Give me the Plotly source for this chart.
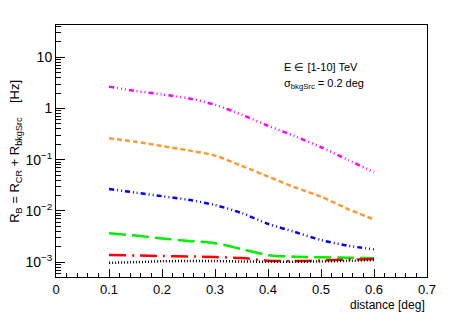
import plotly.graph_objects as go

distance = [0.10, 0.15, 0.20, 0.25, 0.30, 0.35, 0.40, 0.45, 0.50, 0.55, 0.60]

rate_magenta = [2.67, 2.20, 1.88, 1.58, 1.18, 0.76, 0.46, 0.29, 0.175, 0.10, 0.057]
rate_orange = [0.262, 0.225, 0.185, 0.152, 0.120, 0.076, 0.047, 0.029, 0.019, 0.011, 0.0068]
rate_blue = [0.0268, 0.0228, 0.0194, 0.0165, 0.0130, 0.0091, 0.0056, 0.0039, 0.0027, 0.0021, 0.00178]
rate_green = [0.00365, 0.0033, 0.0029, 0.0026, 0.00235, 0.0018, 0.00137, 0.00128, 0.00124, 0.00122, 0.00119]
rate_red = [0.00138, 0.00135, 0.00132, 0.00129, 0.00126, 0.0012, 0.00107, 0.00105, 0.00108, 0.00112, 0.00115]
rate_black = [0.00097, 0.0010, 0.00104, 0.00105, 0.00105, 0.00103, 0.00102, 0.00102, 0.00103, 0.00106, 0.0011]

x_ticks = [0, 0.1, 0.2, 0.3, 0.4, 0.5, 0.6, 0.7]
x_ticktext = ["0", "0.1", "0.2", "0.3", "0.4", "0.5", "0.6", "0.7"]
y_ticks = [1e-3, 1e-2, 1e-1, 1, 10]
y_ticktext = ["10<sup>\u22123</sup>", "10<sup>\u22122</sup>", "10<sup>\u22121</sup>", "1", "10"]

series = [
    (rate_magenta, "#ff00ff", "5px,3px,1px,3px,1px,3px,1px,3px"),
    (rate_orange, "#ff9933", "5px,3px"),
    (rate_blue, "#0000ff", "5px,3px,1px,3px,1px,3px"),
    (rate_green, "#00ee00", "17px,6px"),
    (rate_red, "#ff0000", "17px,6px,2px,6px"),
    (rate_black, "#000000", "1px,2px"),
]

fig = go.Figure()
for vals, col, dash in series:
    fig.add_trace(go.Scatter(
        x=distance, y=vals, mode="lines",
        line=dict(color=col, width=2.5, dash=dash, shape="spline", smoothing=0.8),
        showlegend=False, hoverinfo="skip",
    ))

FONT = "Liberation Sans, Arial, Helvetica, sans-serif"

fig.update_layout(
    width=463, height=315, autosize=False,
    margin=dict(l=56, r=36, t=25, b=38, autoexpand=False),
    paper_bgcolor="white", plot_bgcolor="white",
    font=dict(family=FONT, color="black"),
    xaxis=dict(
        range=[0, 0.7], tickvals=x_ticks, ticktext=x_ticktext, automargin=False,
        ticks="inside", ticklen=8, tickwidth=1, tickcolor="black",
        minor=dict(ticks="inside", ticklen=4, dtick=0.02, tickcolor="black"),
        showgrid=False, zeroline=False,
        showline=True, linecolor="black", linewidth=1, mirror=True,
        tickfont=dict(size=13, family=FONT),
    ),
    yaxis=dict(
        type="log", range=[-3.29, 1.63], automargin=False,
        tickvals=y_ticks, ticktext=y_ticktext,
        ticks="inside", ticklen=9, tickwidth=1, tickcolor="black",
        minor=dict(ticks="inside", ticklen=5, dtick="D1", tickcolor="black", showgrid=False),
        showgrid=False, zeroline=False,
        showline=True, linecolor="black", linewidth=1, mirror=True,
        tickfont=dict(size=14, family=FONT),
    ),
)

fig.add_annotation(
    xref="paper", yref="paper", x=1.0, y=-0.11, xanchor="right", yanchor="middle",
    text="distance [deg]", showarrow=False, font=dict(size=12, family=FONT),
)
fig.add_annotation(
    xref="paper", yref="paper", x=-0.111, y=0.5, xanchor="center", yanchor="middle",
    textangle=-90,
    text="R<sub>B</sub> = R<sub>CR</sub> + R<sub>bkgSrc</sub>\u00a0\u00a0\u00a0\u00a0[Hz]",
    showarrow=False, font=dict(size=13, family=FONT),
)
fig.add_annotation(
    xref="paper", yref="paper", x=0.608, y=0.835, xanchor="left", yanchor="middle",
    text="E \u2208 [1-10] TeV", showarrow=False, font=dict(size=11, family=FONT),
)
fig.add_annotation(
    xref="paper", yref="paper", x=0.608, y=0.765, xanchor="left", yanchor="middle",
    text="\u03c3<sub>bkgSrc</sub> = 0.2 deg", showarrow=False, font=dict(size=11, family=FONT),
)

fig.write_html(
    "out.html",
    config={"displayModeBar": False, "staticPlot": True},
    post_script="document.body.style.margin='0';document.body.style.overflow='hidden';",
)
